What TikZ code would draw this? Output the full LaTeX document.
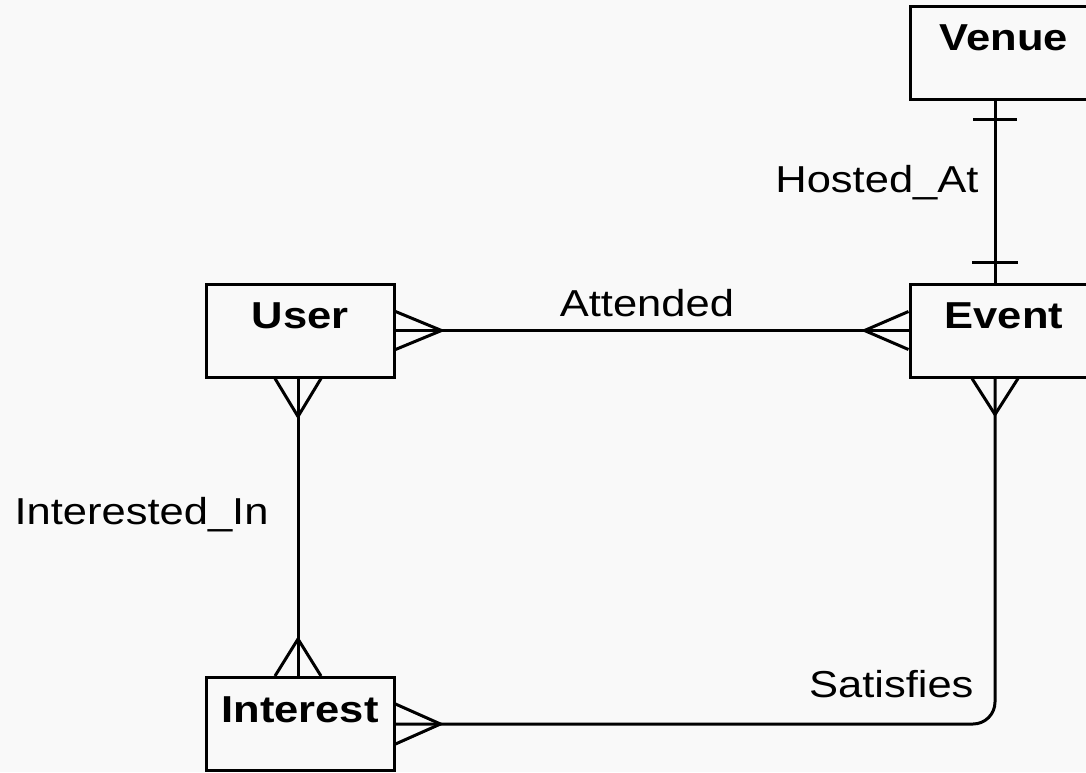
\documentclass[tikz,border=0pt]{standalone}
\usepackage{fontspec}
\setmainfont{Liberation Sans}[FakeStretch=1.16]
\definecolor{paper}{HTML}{F9F9F9}
\newcommand{\erfont}{\fontsize{37.5}{45}\selectfont}
\tikzset{
  entity/.style={draw, rectangle, minimum width=188pt, minimum height=93pt,
    inner sep=0pt, text height=27pt, text depth=31pt, font=\erfont\bfseries},
  lbl/.style={font=\erfont, inner sep=0pt},
  rel/.style={line width=3pt, line join=miter},
}
\begin{document}
\begin{tikzpicture}[x=1pt, y=-1pt, line width=3pt]
\useasboundingbox (0,0) rectangle (1086,772);
\clip (0,0) rectangle (1086,772);
\fill[paper] (0,0) rectangle (1086,772);

% entities
\node[entity] (venue)    at (1004,52.5) {Venue};
\node[entity] (user)     at (300,330.5) {User};
\node[entity] (event)    at (1004,330.5) {Event};
\node[entity] (interest) at (300,724)   {Interest};

% attachment points of the vertical relationships
\coordinate (vs) at ([xshift=-9pt]venue.south);
\coordinate (en) at ([xshift=-9pt]event.north);
\coordinate (es) at ([xshift=-9pt]event.south);
\coordinate (us) at ([xshift=-2pt]user.south);
\coordinate (in) at ([xshift=-2pt]interest.north);

% Hosted_At : one-to-one
\draw[rel] (vs) -- (en)
  node[lbl, pos=0.5, anchor=base east, xshift=-15pt, yshift=-0.5pt] {Hosted\_At};
\draw[rel] ([xshift=-22pt,yshift=-19pt]vs) -- ([xshift=22pt,yshift=-19pt]vs);
\draw[rel] ([xshift=-23pt,yshift=20pt]en) -- ([xshift=23pt,yshift=20pt]en);

% Attended : many-to-many
\draw[rel] (user.east) -- (event.west)
  node[lbl, pos=0.49, anchor=base, yshift=14.5pt] {Attended};
\draw[rel] ([yshift=19pt]user.east) -- ([xshift=46pt]user.east) -- ([yshift=-19pt]user.east);
\draw[rel] ([yshift=19pt]event.west) -- ([xshift=-44pt]event.west) -- ([yshift=-19pt]event.west);

% Interested_In : many-to-many
\draw[rel] (us) -- (in)
  node[lbl, pos=0.49, anchor=base east, xshift=-28pt] {Interested\_In};
\draw[rel] ([xshift=-23pt]us) -- ([yshift=-38pt]us) -- ([xshift=23pt]us);
\draw[rel] ([xshift=-23pt]in) -- ([yshift=37pt]in) -- ([xshift=23pt]in);

% Satisfies : many-to-many
\draw[rel, rounded corners=22pt] (interest.east) -| (es)
  node[lbl, pos=0.5, anchor=base east, xshift=-20pt, yshift=27pt] {Satisfies};
\draw[rel] ([yshift=20pt]interest.east) -- ([xshift=45pt]interest.east) -- ([yshift=-20pt]interest.east);
\draw[rel] ([xshift=-23pt]es) -- ([yshift=-36pt]es) -- ([xshift=23pt]es);
\end{tikzpicture}
\end{document}
